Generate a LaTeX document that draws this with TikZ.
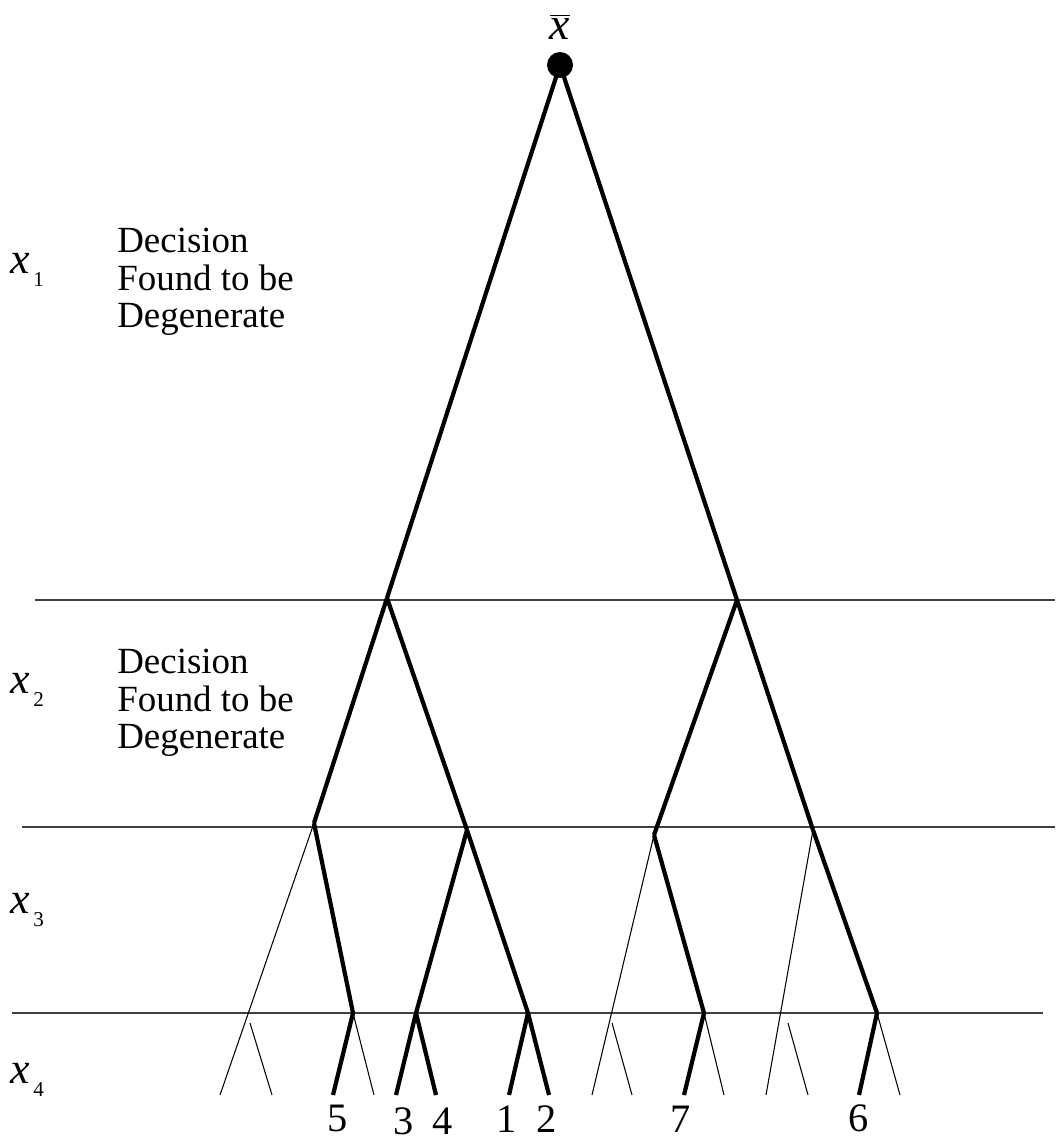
\documentclass[tikz,border=0pt]{standalone}
\usepackage{fontspec}
\setmainfont{Liberation Serif}
\usepackage{tikz}
\tikzstyle{dot}=[circle,fill=black,draw=none,minimum size=0.52cm,inner sep=0pt]
\tikzstyle{branch}=[line width=2.4pt]
\tikzstyle{pruned}=[line width=0.6pt]
\tikzstyle{level}=[line width=0.7pt,black!75]
\tikzstyle{leaf}=[font=\fontsize{23}{26}\selectfont,inner sep=0pt]
\tikzstyle{note}=[font=\fontsize{21}{21.4}\selectfont,align=left,anchor=west,inner sep=0pt]
\newcommand{\lvlvar}[1]{{\fontsize{25}{25}\selectfont\textit{x}}\kern2pt\raisebox{-7pt}{\fontsize{12}{12}\selectfont #1}}
\usetikzlibrary{positioning}

\begin{document}
\begin{tikzpicture}[x=0.02cm,y=-0.02cm]
    \useasboundingbox (0,0) rectangle (1055,1142);
    % level separators
    \coordinate (s1a) at (35,600);   \coordinate (s1b) at (1055,600);
    \coordinate (s2a) at (22,827);   \coordinate (s2b) at (1055,827);
    \coordinate (s3a) at (12,1013);  \coordinate (s3b) at (1043,1013);
    \path[level]
        (s1a) edge (s1b)
        (s2a) edge (s2b)
        (s3a) edge (s3b);
    % root
    \node (root) [dot] at (560,65) {};
    \node (xbar) [font=\fontsize{26}{28}\selectfont,inner sep=0pt] at (560,27) {$\overline{\textit{x}}$};
    % branching points
    \node (L) [coordinate] at (387,598) {};
    \node (R) [coordinate] at (737,600) {};
    \node (LL) [coordinate] at (314,823) {};
    \node (LR) [coordinate] at (467,830) {};
    \node (RL) [coordinate] at (654,835) {};
    \node (RR) [coordinate] at (813,830) {};
    \node (LLR) [coordinate] at (353,1013) {};
    \node (LRL) [coordinate] at (416,1013) {};
    \node (LRR) [coordinate] at (528,1013) {};
    \node (RLR) [coordinate] at (704,1013) {};
    \node (RRR) [coordinate] at (877,1013) {};
    \node (LLL) [coordinate] at (250,1023) {};
    \node (RLL) [coordinate] at (612,1023) {};
    \node (RRL) [coordinate] at (788,1023) {};
    % leaves
    \foreach \nm/\xx in {a/220,b/272,c/333,d/374,e/396,f/436,g/509,h/549,
                         i/592,j/632,k/684,l/724,m/766,n/808,o/859,p/900}
        \node (\nm) [coordinate] at (\xx,1095) {};
    \path[branch]
        (root.center) edge (L)
        (root.center) edge (R)
        (L) edge (LL)
        (L) edge (LR)
        (R) edge (RL)
        (R) edge (RR)
        (LL) edge (LLR)
        (LR) edge (LRL)
        (LR) edge (LRR)
        (RL) edge (RLR)
        (RR) edge (RRR)
        (LLR) edge (c)
        (LRL) edge (e)
        (LRL) edge (f)
        (LRR) edge (g)
        (LRR) edge (h)
        (RLR) edge (k)
        (RRR) edge (o);
    \path[pruned]
        (LL) edge (a)
        (LLL) edge (b)
        (LLR) edge (d)
        (RL) edge (i)
        (RLL) edge (j)
        (RLR) edge (l)
        (RR) edge (m)
        (RRL) edge (n)
        (RRR) edge (p);
    % leaf numbers
    \node (n5) [leaf] at (338,1118) {5};
    \node (n3) [leaf] at (404,1121) {3};
    \node (n4) [leaf] at (443,1121) {4};
    \node (n1) [leaf] at (507,1119) {1};
    \node (n2) [leaf] at (547,1119) {2};
    \node (n7) [leaf] at (681,1119) {7};
    \node (n6) [leaf] at (859,1118) {6};
    % variables and notes
    \node (x1) [note] at (10,270) {\lvlvar{1}};
    \node (x2) [note] at (10,690) {\lvlvar{2}};
    \node (x3) [note] at (10,910) {\lvlvar{3}};
    \node (x4) [note] at (10,1080) {\lvlvar{4}};
    \node (d1) [note] at (117,282) {Decision\\Found to be\\Degenerate};
    \node (d2) [note] at (117,703) {Decision\\Found to be\\Degenerate};
\end{tikzpicture}
\end{document}
